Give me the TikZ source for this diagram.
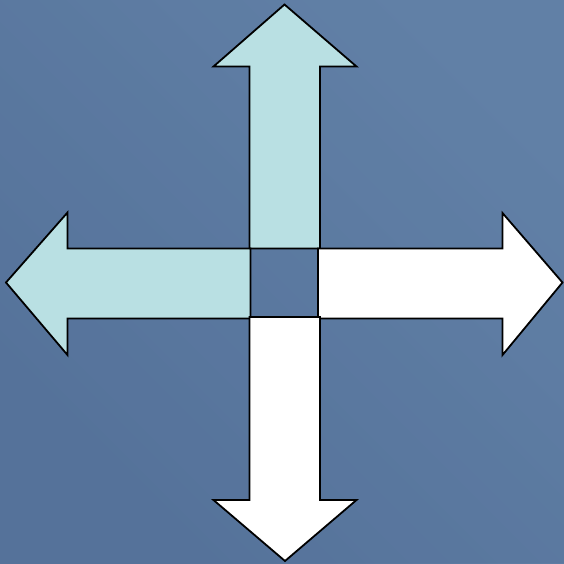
\documentclass[tikz,border=0pt]{standalone}
\definecolor{bgA}{HTML}{55729A}
\definecolor{bgB}{HTML}{6787AC}
\definecolor{cyanfill}{HTML}{B9E0E3}
\tikzset{
  arrowshape/.style={draw=black, line width=1.8pt, line join=miter},
  cyanarrow/.style={arrowshape, fill=cyanfill},
  whitearrow/.style={arrowshape, fill=white}
}
\begin{document}
\begin{tikzpicture}[x=1pt,y=-1pt]
\useasboundingbox (0,0) rectangle (564,563);
\shade[left color=bgA, right color=bgB, shading angle=135] (0,0) rectangle (564,563);
\fill[bgA, opacity=0.3] (0,0) rectangle (564,563);
% up arrow
\draw[cyanarrow] (249.5,248.5) -- (249.5,66.5) -- (213.5,66.5) -- (284.5,4.5) -- (356.5,66.5) -- (320,66.5) -- (320,248.5) -- cycle;
% left arrow
\draw[cyanarrow] (250.5,248.5) -- (67.5,248.5) -- (67.5,212.5) -- (6,282.5) -- (67.5,355) -- (67.5,318.5) -- (250.5,318.5) -- cycle;
% right arrow
\draw[whitearrow] (318,248.5) -- (502.5,248.5) -- (502.5,213) -- (562.5,282.5) -- (502.5,355) -- (502.5,318.5) -- (318,318.5) -- cycle;
% down arrow
\draw[whitearrow] (249.5,317) -- (249.5,500) -- (213.5,500) -- (285,561) -- (356.5,500) -- (320,500) -- (320,317) -- cycle;
\end{tikzpicture}
\end{document}
